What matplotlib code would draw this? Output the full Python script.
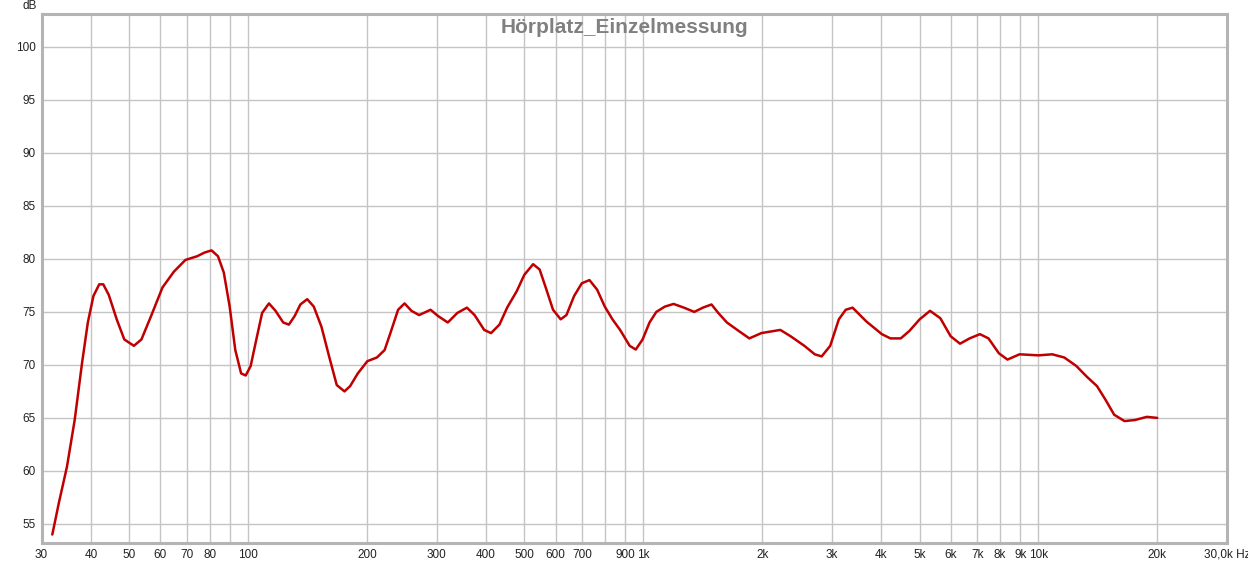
import matplotlib
matplotlib.use('Agg')
import matplotlib.pyplot as plt
from matplotlib.ticker import FixedLocator, NullLocator

# frequency response (Hz, dB)
freq = [31.95, 33.2, 34.8, 36.4, 38.0, 39.3, 40.6, 42.0, 43.0, 44.4, 46.5, 48.6,
        51.4, 53.7, 56.8, 60.7, 64.9, 69.4, 74.3, 77.6, 80.8, 83.9, 86.8, 89.8,
        92.8, 96.0, 98.6, 101.5, 104.9, 108.5, 112.9, 117.3, 122.7, 126.8, 131.1,
        135.6, 141.1, 146.6, 153.3, 160.3, 167.6, 175.3, 181.2, 189.5, 200.3,
        211.8, 221.5, 229.1, 239.6, 248.8, 259.0, 270.8, 289.5, 302.7, 320.1,
        338.4, 357.8, 374.2, 395.7, 411.8, 432.5, 452.3, 478.3, 500.0, 526.3,
        546.6, 565.2, 591.0, 618.0, 639.0, 668.3, 698.8, 730.8, 764.1, 799.0,
        835.5, 873.5, 923.8, 957, 996, 1037, 1079, 1134, 1193, 1267, 1346, 1415,
        1488, 1548, 1628, 1729, 1855, 1990, 2222, 2360, 2556, 2716, 2827, 2972,
        3125, 3253, 3385, 3668, 4015, 4221, 4482, 4713, 5005, 5317, 5646, 5996,
        6331, 6696, 7110, 7474, 7939, 8348, 8956, 9417, 10000, 10835, 11621,
        12466, 13243, 14064, 14787, 15545, 16511, 17536, 18810, 19977]
spl = [54.0, 57.0, 60.4, 64.8, 70.2, 74.0, 76.5, 77.6, 77.6, 76.6, 74.3, 72.4,
       71.8, 72.4, 74.6, 77.3, 78.8, 79.9, 80.25, 80.6, 80.8, 80.25, 78.7, 75.5,
       71.4, 69.2, 69.0, 69.9, 72.4, 74.9, 75.8, 75.1, 74.0, 73.8, 74.6,
       75.7, 76.2, 75.5, 73.6, 70.8, 68.1, 67.5, 68.0, 69.2, 70.35,
       70.7, 71.4, 73.0, 75.2, 75.8, 75.1, 74.7, 75.2, 74.6, 74.0,
       74.9, 75.4, 74.7, 73.3, 73.0, 73.8, 75.4, 76.95, 78.5, 79.5,
       79.0, 77.4, 75.2, 74.3, 74.7, 76.5, 77.7, 78.0, 77.1, 75.5,
       74.3, 73.3, 71.8, 71.45, 72.4, 74.0, 75.0, 75.5, 75.75, 75.4, 75.0, 75.4,
       75.7, 74.9, 74.0, 73.3, 72.5, 73.0, 73.3, 72.7, 71.8, 71.0, 70.8, 71.8,
       74.3, 75.2, 75.4, 74.1, 72.9, 72.5, 72.5, 73.2, 74.3, 75.1, 74.4, 72.7,
       72.0, 72.5, 72.9, 72.5, 71.1, 70.5, 71.0, 70.95, 70.9, 71.0, 70.7,
       69.9, 68.9, 68.0, 66.7, 65.3, 64.7, 64.8, 65.1, 65.0]

grid_freqs = [40, 50, 60, 70, 80, 90, 100, 200, 300, 400, 500, 600, 700, 800, 900,
              1000, 2000, 3000, 4000, 5000, 6000, 7000, 8000, 9000, 10000, 20000]
label_freqs = [30, 40, 50, 60, 70, 80, 100, 200, 300, 400, 500, 600, 700, 900,
               1000, 2000, 3000, 4000, 5000, 6000, 7000, 8000, 9000, 10000, 20000, 30000]
label_text = ['30', '40', '50', '60', '70', '80', '100', '200', '300', '400', '500',
              '600', '700', '900', '1k', '2k', '3k', '4k', '5k', '6k', '7k', '8k',
              '9k', '10k', '20k', '30,0k Hz']
db_ticks = [55, 60, 65, 70, 75, 80, 85, 90, 95, 100]

plt.rcParams['font.family'] = ['Liberation Sans', 'DejaVu Sans']

fig = plt.figure(figsize=(12.48, 5.63), dpi=100)
ax = fig.add_axes([41.5 / 1248, 1 - 543 / 563, (1227 - 41.5) / 1248, (543 - 14) / 563])

ax.set_xscale('log')
ax.set_xlim(30, 30000)
ax.set_ylim(53.2, 103.1)

grid_col = '#c4c4c4'
for f in grid_freqs:
    ax.axvline(f, color=grid_col, lw=1, zorder=1)
for d in db_ticks:
    ax.axhline(d, color=grid_col, lw=1, zorder=1)

ax.plot(freq, spl, color='#c00000', lw=1.8, zorder=3,
        solid_joinstyle='round', solid_capstyle='round')

ax.xaxis.set_major_locator(FixedLocator(label_freqs))
ax.xaxis.set_minor_locator(NullLocator())
ax.set_xticklabels(label_text)
ax.set_yticks(db_ticks)
ax.tick_params(length=0, labelsize=8.5, colors='#222222')
ax.tick_params(axis='x', pad=4)
ax.tick_params(axis='y', pad=4)

for s in ax.spines.values():
    s.set_color('#b4b4b4')
    s.set_linewidth(2.2)

fig.text(0.5, 1 - 18 / 563, 'Hörplatz_Einzelmessung', ha='center', va='top',
         fontsize=15, fontweight='bold', color='#808080', zorder=4)
fig.text(30 / 1248, 1 - 6 / 563, 'dB', ha='center', va='center', fontsize=8.5, color='#222222')

fig.savefig('out.png', dpi=100)
